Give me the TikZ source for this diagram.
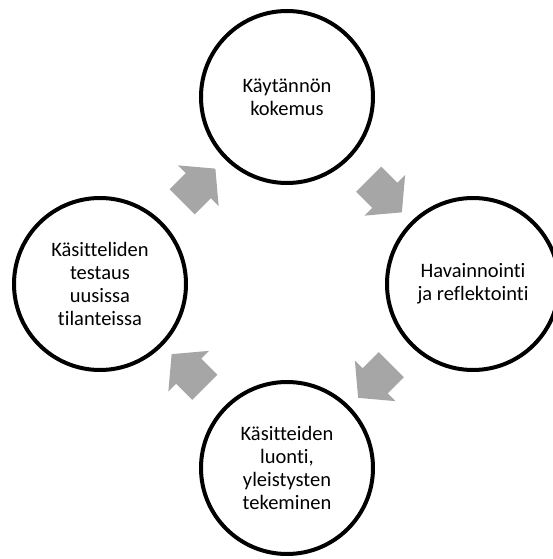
\documentclass[tikz,border=0pt]{standalone}
\usepackage{fontspec}
\setmainfont{Carlito}[Ligatures=NoCommon]
\usetikzlibrary{shapes.arrows,calc}
\definecolor{nuolenharmaa}{HTML}{A6A6A6}

\begin{document}
\begin{tikzpicture}[x=1pt,y=1pt,
  vaihe/.style={circle,draw=black,line width=4pt,minimum size=172pt,
    inner sep=0pt,align=center,font=\fontsize{20.5}{23}\selectfont},
  nuoli/.style={single arrow,fill=nuolenharmaa,draw=none,minimum height=47pt,
    inner xsep=0pt,inner ysep=17.5pt,single arrow head extend=11pt,
    single arrow tip angle=100}]
% Kuvan rajat
\useasboundingbox (-287,-275) rectangle (265,284);

% Vaiheet (ympyrät)
\node[vaihe] (kokemus) at (0,187) {Käytännön\\kokemus};
\node[vaihe] (havainnointi) at (186,0) {Havainnointi\\ja reflektointi};
\node[vaihe] (kasitteet) at (0,-184) {Käsitteiden\\luonti,\\yleistysten\\tekeminen};
\node[vaihe] (testaus) at (-187,0) {Käsitteliden\\testaus\\uusissa\\tilanteissa};

% Nuolet vaiheiden välissä
\node[nuoli,rotate=-45] (n1) at ($(kokemus)!0.5!(havainnointi)$) {};
\node[nuoli,rotate=-135] (n2) at ($(havainnointi)!0.5!(kasitteet)$) {};
\node[nuoli,rotate=135] (n3) at ($(kasitteet)!0.5!(testaus)$) {};
\node[nuoli,rotate=45] (n4) at ($(testaus)!0.5!(kokemus)$) {};

\end{tikzpicture}
\end{document}
